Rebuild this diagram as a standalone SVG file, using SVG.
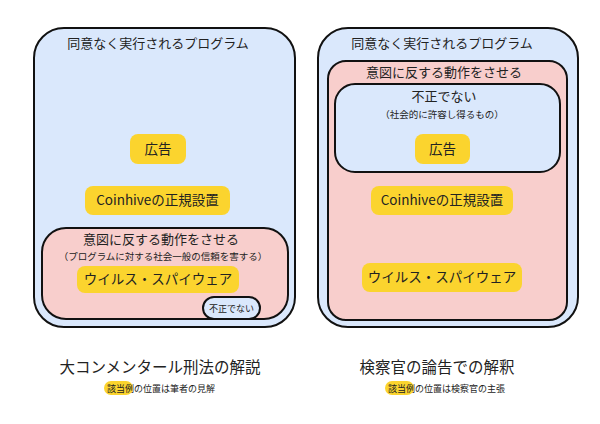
<svg xmlns="http://www.w3.org/2000/svg" width="600" height="424" viewBox="0 0 600 424">
<style>
text{font-family:"Noto Sans CJK JP","Liberation Sans",sans-serif;fill:#222;text-anchor:middle}
.blue{fill:#dae8fc;stroke:#111;stroke-width:2}
.pink{fill:#f8cecc;stroke:#111;stroke-width:2}
.pill{fill:#fbd42e}
.t{font-size:13px}
.s{font-size:9.5px}
.n{font-size:9px}
.p{font-size:13.5px}
.cap{font-size:15.5px}
.sub{font-size:9px;text-anchor:start}
</style>
<rect width="600" height="424" fill="#fff"/>
<g id="left">
<g id="l-outer"><rect class="blue" x="34" y="28" width="261" height="299" rx="30"/><text class="t" x="158" y="48">同意なく実行されるプログラム</text></g>
<g id="l-ad"><rect class="pill" x="130" y="134" width="56" height="30" rx="8"/><text class="p" x="158" y="154">広告</text></g>
<g id="l-coin"><rect class="pill" x="85" y="186" width="145" height="29" rx="8"/><text class="p" x="157.5" y="205">Coinhiveの正規設置</text></g>
<g id="l-pink"><rect class="pink" x="42" y="228" width="246" height="91" rx="24"/><text class="t" x="161" y="244">意図に反する動作をさせる</text><text class="s" x="163" y="260">（プログラムに対する社会一般の信頼を害する）</text></g>
<g id="l-virus"><rect class="pill" x="77" y="266" width="162" height="27" rx="8"/><text class="p" x="158" y="284">ウイルス・スパイウェア</text></g>
<g id="l-notbad"><rect class="blue" x="203" y="297" width="57" height="22" rx="11"/><text class="n" x="231.5" y="311.5">不正でない</text></g>
<g id="l-cap"><text class="cap" x="160" y="373">大コンメンタール刑法の解説</text><rect class="pill" x="104" y="381" width="29" height="14" rx="7"/><text class="sub" x="107" y="391.5">該当例の位置は筆者の見解</text></g>
</g>
<g id="right">
<g id="r-outer"><rect class="blue" x="318" y="28" width="260" height="299" rx="30"/><text class="t" x="442" y="48">同意なく実行されるプログラム</text></g>
<g id="r-pink"><rect class="pink" x="328" y="61" width="239" height="259" rx="18"/><text class="t" x="444" y="77">意図に反する動作をさせる</text></g>
<g id="r-notbad"><rect class="blue" x="335" y="84" width="225" height="88" rx="20"/><text class="t" x="444" y="101">不正でない</text><text class="s" x="442" y="118">（社会的に許容し得るもの）</text></g>
<g id="r-ad"><rect class="pill" x="415" y="134" width="55" height="30" rx="8"/><text class="p" x="442.5" y="154">広告</text></g>
<g id="r-coin"><rect class="pill" x="371" y="186" width="142" height="29" rx="8"/><text class="p" x="442" y="205">Coinhiveの正規設置</text></g>
<g id="r-virus"><rect class="pill" x="362" y="263" width="160" height="29" rx="8"/><text class="p" x="442" y="282">ウイルス・スパイウェア</text></g>
<g id="r-cap"><text class="cap" x="437" y="373">検察官の論告での解釈</text><rect class="pill" x="385" y="381" width="29" height="14" rx="7"/><text class="sub" x="388" y="391.5">該当例の位置は検察官の主張</text></g>
</g>
<g id="connectors"/>
</svg>
